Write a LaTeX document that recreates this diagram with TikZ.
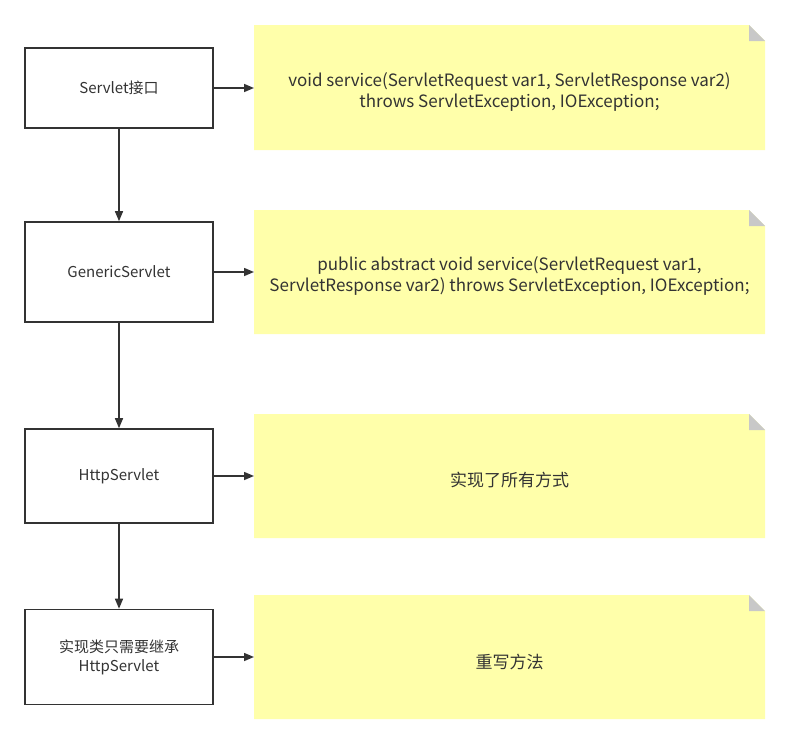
\documentclass[tikz,border=0pt]{standalone}
\usepackage{fontspec}
\setmainfont{Noto Sans CJK SC}
\usetikzlibrary{arrows.meta}
\definecolor{ln}{HTML}{333333}
\definecolor{notey}{HTML}{FFFFAA}
\definecolor{fold}{HTML}{C8C8C8}
\begin{document}
\begin{tikzpicture}[x=1pt,y=-1pt,
  box/.style={draw=ln,line width=1.6pt,fill=white,minimum width=188pt,minimum height=80pt,inner sep=2pt,align=center,font=\fontsize{15pt}{19pt}\selectfont,text=ln},
  arr/.style={draw=ln,line width=1.5pt,-{Triangle[length=10pt,width=8pt]}},
  notetext/.style={align=center,font=\fontsize{17pt}{21pt}\selectfont,text=ln,inner sep=0pt}]
\useasboundingbox (0,0) rectangle (790,745);
% notes
\newcommand{\notebox}[3]{%
  \fill[notey] (254,#1) -- (749,#1) -- (765,#1+16) -- (765,#2) -- (254,#2) -- cycle;
  \fill[fold] (749,#1) -- (765,#1+16) -- (749,#1+16) -- cycle;
  \coordinate (#3) at (254,{(#1+#2)/2});
}
\notebox{25}{150}{n1w}
\notebox{210}{334}{n2w}
\notebox{414}{538}{n3w}
\notebox{595}{719}{n4w}
\node[notetext] (t1) at (509.5,92) {void service(ServletRequest var1, ServletResponse var2)\\throws ServletException, IOException;};
\node[notetext] (t2) at (509.5,276) {public abstract void service(ServletRequest var1,\\ServletResponse var2) throws ServletException, IOException;};
\node[notetext] (t3) at (509.5,480) {实现了所有方式};
\node[notetext] (t4) at (509.5,662) {重写方法};
% boxes
\node[box] (b1) at (119,88) {Servlet接口};
\node[box,minimum height=100pt] (b2) at (119,272) {GenericServlet};
\node[box,minimum height=94pt] (b3) at (119,476) {HttpServlet};
\node[box,minimum height=95pt] (b4) at (119,657) {实现类只需要继承\\HttpServlet};
% arrows
\draw[arr] (b1) -- (b2);
\draw[arr] (b2) -- (b3);
\draw[arr] (b3) -- (b4);
\draw[arr] (b1.east) -- (b1.east -| n1w);
\draw[arr] (b2.east) -- (b2.east -| n2w);
\draw[arr] (b3.east) -- (b3.east -| n3w);
\draw[arr] (b4.east) -- (b4.east -| n4w);
\end{tikzpicture}
\end{document}
